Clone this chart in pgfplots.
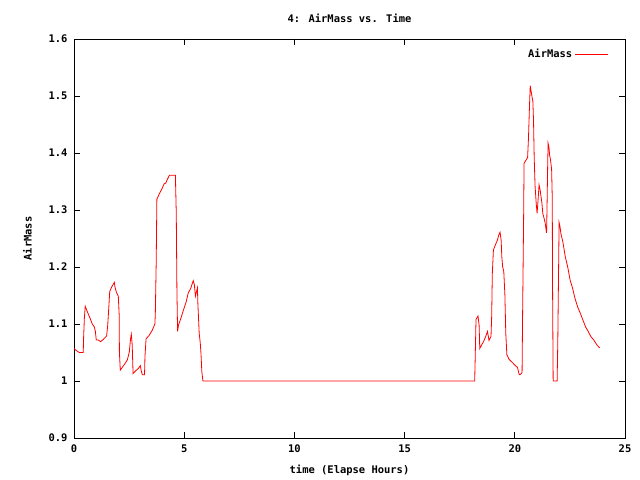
\documentclass[border=0pt]{standalone}
\usepackage{pgfplots}
\pgfplotsset{compat=1.18}
\usepackage{fontspec}
\setmainfont{DejaVu Sans Mono}
\setmonofont{DejaVu Sans Mono}
\begin{document}
\begin{tikzpicture}[x=1bp,y=1bp]
\useasboundingbox (0,0) rectangle (640,480);
\begin{axis}[
  at={(74bp,42bp)}, anchor=south west,
  width=551bp, height=399bp, scale only axis,
  xmin=0, xmax=25, ymin=0.9, ymax=1.6,
  xtick={0,5,10,15,20,25},
  ytick={0.9,1.0,1.1,1.2,1.3,1.4,1.5,1.6},
  yticklabels={0.9,1,1.1,1.2,1.3,1.4,1.5,1.6},
  tick align=inside,
  major tick length=6bp,
  axis line style={black, line width=0.8bp},
  every tick/.style={black, line width=0.8bp},
  /pgf/number format/assume math mode=true,
  tick label style={font=\fontsize{10.5}{12}\selectfont\bfseries},
  xticklabel style={yshift=-3bp},
  yticklabel style={xshift=-3bp},
  title={4: AirMass vs. Time},
  title style={font=\fontsize{10.5}{12}\selectfont\bfseries, at={(0.5,1)}, yshift=7bp},
  xlabel={time (Elapse Hours)},
  xlabel style={font=\fontsize{10.5}{12}\selectfont\bfseries, yshift=-6bp},
  ylabel={AirMass},
  ylabel style={font=\fontsize{10.5}{12}\selectfont\bfseries, yshift=10bp},
  legend style={at={(0.975,0.985)}, anchor=north east, draw=none, fill=none,
    font=\fontsize{10.5}{12}\selectfont\bfseries, legend cell align=right},
  legend plot pos=right,
  legend image code/.code={\draw[red, line width=0.8bp] (0bp,0bp) -- (33bp,0bp);},
]
\addplot[red, line width=0.8bp] coordinates {
(0.00,1.057) (0.12,1.053) (0.24,1.050) (0.42,1.050) (0.43,1.070) (0.47,1.110) (0.51,1.131)
(0.60,1.122) (0.73,1.110) (0.83,1.100) (0.92,1.095) (0.97,1.087) (1.01,1.072) (1.10,1.072)
(1.21,1.069) (1.33,1.073) (1.48,1.079) (1.53,1.098) (1.59,1.136) (1.62,1.157) (1.71,1.165)
(1.83,1.173) (1.86,1.165) (1.92,1.156) (2.01,1.149) (2.05,1.116) (2.06,1.051) (2.10,1.019)
(2.21,1.025) (2.32,1.031) (2.42,1.037) (2.51,1.051) (2.56,1.072) (2.60,1.082) (2.64,1.064)
(2.68,1.013) (2.80,1.018) (2.92,1.022) (3.01,1.027) (3.05,1.018) (3.10,1.011) (3.20,1.011)
(3.22,1.043) (3.27,1.074) (3.41,1.080) (3.55,1.089) (3.67,1.100) (3.69,1.119) (3.73,1.209)
(3.76,1.319) (3.88,1.329) (4.00,1.338) (4.09,1.346) (4.16,1.347) (4.24,1.354) (4.33,1.361)
(4.48,1.361) (4.60,1.361) (4.64,1.294) (4.67,1.157) (4.70,1.087) (4.74,1.098) (4.85,1.110)
(4.97,1.125) (5.09,1.139) (5.18,1.154) (5.30,1.163) (5.41,1.176) (5.46,1.169) (5.51,1.149)
(5.56,1.157) (5.60,1.163) (5.62,1.136) (5.68,1.084) (5.73,1.066) (5.76,1.049) (5.80,1.016)
(5.85,1.000) (18.18,1.000) (18.21,1.054) (18.24,1.108) (18.33,1.114) (18.38,1.098)
(18.41,1.057) (18.49,1.063) (18.58,1.069) (18.68,1.078) (18.76,1.087) (18.83,1.071)
(18.92,1.078) (18.95,1.113) (18.98,1.189) (19.03,1.230) (19.12,1.239) (19.21,1.247)
(19.27,1.256) (19.33,1.261) (19.38,1.247) (19.41,1.218) (19.45,1.200) (19.50,1.192)
(19.55,1.151) (19.59,1.084) (19.64,1.046) (19.74,1.038) (19.90,1.032) (20.05,1.026)
(20.12,1.024) (20.20,1.011) (20.27,1.012) (20.33,1.015) (20.35,1.104) (20.40,1.288)
(20.42,1.382) (20.50,1.387) (20.58,1.392) (20.62,1.426) (20.67,1.487) (20.70,1.518)
(20.74,1.508) (20.78,1.499) (20.82,1.490) (20.85,1.455) (20.88,1.391) (20.92,1.342)
(20.97,1.312) (21.01,1.294) (21.04,1.309) (21.08,1.332) (21.10,1.344) (21.15,1.335)
(21.18,1.326) (21.23,1.312) (21.27,1.294) (21.33,1.285) (21.38,1.277) (21.41,1.268)
(21.44,1.260) (21.46,1.300) (21.49,1.376) (21.51,1.417) (21.55,1.410) (21.58,1.396)
(21.62,1.388) (21.67,1.371) (21.70,1.320) (21.71,1.183) (21.74,1.000) (21.92,1.000)
(21.95,1.069) (21.99,1.209) (22.01,1.278) (22.05,1.271) (22.09,1.259) (22.18,1.244)
(22.24,1.230) (22.29,1.218) (22.40,1.200) (22.51,1.177) (22.62,1.163) (22.73,1.145)
(22.85,1.130) (22.97,1.119) (23.09,1.107) (23.21,1.095) (23.33,1.087) (23.45,1.078)
(23.58,1.072) (23.73,1.063) (23.85,1.058)
};
\addlegendentry{AirMass}
\end{axis}
\end{tikzpicture}
\end{document}
